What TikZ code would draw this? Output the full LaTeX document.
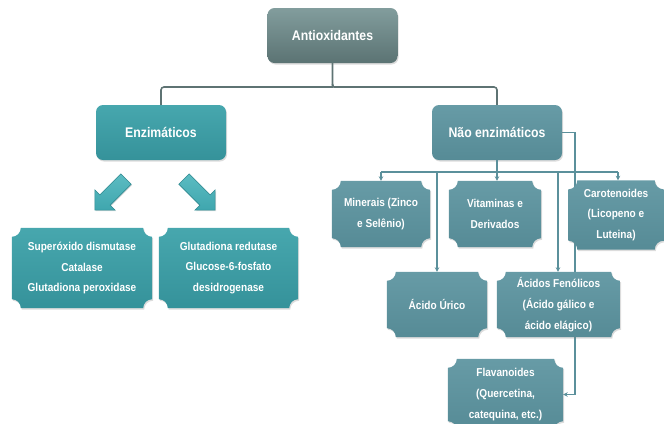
\documentclass[tikz,border=0pt]{standalone}
\usepackage{fontspec}
\setmainfont{Liberation Sans}[FakeStretch=0.88]
\usetikzlibrary{arrows.meta,shapes.arrows,shadows,backgrounds,calc}
\definecolor{tealA}{HTML}{47A7AE}
\definecolor{tealB}{HTML}{35929A}
\definecolor{blueA}{HTML}{679BA6}
\definecolor{blueB}{HTML}{568B96}
\definecolor{grayA}{HTML}{829D9D}
\definecolor{grayB}{HTML}{5B7373}
\definecolor{conn}{HTML}{5B909B}
\definecolor{bracecol}{HTML}{5E7373}
\definecolor{arrfill}{HTML}{3FA6AE}
\definecolor{arrlight}{HTML}{5CBCC2}
\definecolor{arrdraw}{HTML}{2E8990}
\newcommand{\plaque}[2]{\path[#2] let \p1=(#1.north west), \p2=(#1.south east) in
  (\x1+9bp,\y1) -- (\x2-9bp,\y1) arc[start angle=180,end angle=270,radius=9bp]
  -- (\x2,\y2+9bp) arc[start angle=90,end angle=180,radius=9bp]
  -- (\x1+9bp,\y2) arc[start angle=0,end angle=90,radius=9bp]
  -- (\x1,\y1-9bp) arc[start angle=270,end angle=360,radius=9bp] -- cycle;}
\begin{document}
\begin{tikzpicture}[x=1bp,y=-1bp,
  boxshadow/.style={drop shadow={opacity=0.28, shadow xshift=1bp, shadow yshift=-1.5bp}},
  txt/.style={text=white, font=\bfseries\fontsize{11.5}{21}\selectfont, align=center, inner sep=0pt},
  head/.style={text=white, font=\bfseries\fontsize{14}{16}\selectfont, align=center, inner sep=0pt,
    rounded corners=7bp, minimum width=130bp, minimum height=55bp, boxshadow},
  tealfill/.style={top color=tealA, bottom color=tealB, boxshadow},
  bluefill/.style={top color=blueA, bottom color=blueB, boxshadow},
  connline/.style={draw=conn, line width=1.5bp},
  connarrow/.style={connline, -{Stealth[length=4.5bp,width=4.5bp]}},
  bracestyle/.style={draw=bracecol, line width=1.6bp, rounded corners=3bp},
  blockarrow/.style={single arrow, minimum height=44bp, inner xsep=0pt, inner ysep=7bp,
    single arrow head extend=7bp, top color=arrlight, bottom color=arrfill, shading angle=0,
    draw=arrdraw, line width=0.6bp, drop shadow={opacity=0.25, shadow xshift=1bp, shadow yshift=-1bp}}
]
\useasboundingbox (0,0) rectangle (664,423);

% header boxes
\node[head, top color=grayA, bottom color=grayB] (anti) at (332.5,35.5) {Antioxidantes};
\node[head, top color=tealA, bottom color=tealB] (enz) at (161,132.5) {Enzimáticos};
\node[head, top color=blueA, bottom color=blueB] (nenz) at (497,132.5) {Não enzimáticos};

% text of plaque boxes
\node[txt, minimum width=140bp, minimum height=80bp] (sod) at (82,268) {Superóxido dismutase\\Catalase\\Glutadiona peroxidase};
\node[txt, minimum width=139bp, minimum height=80bp] (glu) at (228.5,268) {Glutadiona redutase\\Glucose-6-fosfato\\desidrogenase};
\node[txt, minimum width=98bp, minimum height=66bp] (min) at (381,214) {Minerais (Zinco\\e Selênio)};
\node[txt, minimum width=92bp, minimum height=66bp] (vit) at (495,214) {Vitaminas e\\Derivados};
\node[txt, minimum width=95bp, minimum height=69bp] (car) at (616,215) {Carotenoides\\(Licopeno e\\Luteina)};
\node[txt, minimum width=100bp, minimum height=65bp] (uric) at (437,304.5) {Ácido Úrico};
\node[txt, minimum width=123bp, minimum height=65bp] (fen) at (558.5,304.5) {Ácidos Fenólicos\\(Ácido gálico e\\ácido elágico)};
\node[txt, minimum width=115bp, minimum height=71bp] (fla) at (505.5,394.5) {Flavanoides\\(Quercetina,\\catequina, etc.)};

% block arrows
\node[blockarrow, rotate=-135] (arrL) at (113,192) {};
\node[blockarrow, rotate=-45] (arrR) at (197,192) {};

% coordinates
\coordinate (busL) at (381,172);
\coordinate (busR) at (618,172);
\coordinate (bU) at (437,172);
\coordinate (bF) at (558,172);
\coordinate (sideX) at (575,0);

\begin{pgfonlayer}{background}
  \draw[connarrow] (nenz.east) -| (sideX |- fla.east) -- (fla.east);
  \plaque{sod}{tealfill}
  \plaque{glu}{tealfill}
  \plaque{min}{bluefill}
  \plaque{vit}{bluefill}
  \plaque{car}{bluefill}
  \plaque{uric}{bluefill}
  \plaque{fen}{bluefill}
  \plaque{fla}{bluefill}
\end{pgfonlayer}

% brace
\draw[bracestyle] (enz.north) -- (enz.north |- 0,87) -- (328,87)
  .. controls (331,87) and (332.5,86.5) .. (332.5,84) -- (anti.south);
\draw[bracestyle] (nenz.north) -- (nenz.north |- 0,87) -- (337,87)
  .. controls (334,87) and (332.5,86.5) .. (332.5,84);

% non-enzymatic bus
\draw[connline] (nenz.south) -- (nenz.south |- busL);
\draw[connline] (busL) -- (busR);
\draw[connarrow] (busL) -- (min.north);
\draw[connarrow] (nenz.south |- busL) -- (nenz.south |- vit.north);
\draw[connarrow] (busR) -- (busR |- car.north);
\draw[connarrow] (bU) -- (uric.north);
\draw[connarrow] (bF) -- (bF |- fen.north);
\end{tikzpicture}
\end{document}
